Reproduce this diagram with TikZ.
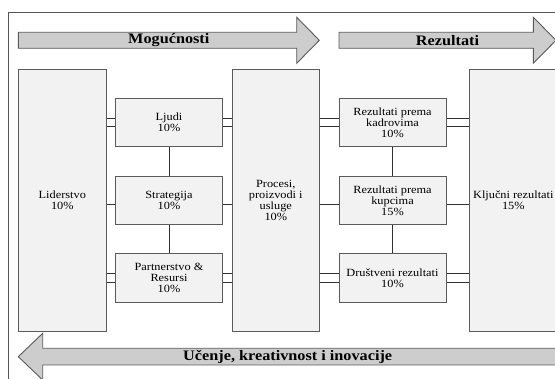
\documentclass[tikz,border=0pt]{standalone}
\usepackage{fontspec}
\setmainfont[FakeStretch=1.12]{Liberation Serif}
\usetikzlibrary{backgrounds}
\definecolor{framecol}{RGB}{85,85,85}
\definecolor{boxfill}{RGB}{242,242,242}
\definecolor{boxline}{RGB}{90,90,90}
\definecolor{linkcol}{RGB}{50,50,50}
\definecolor{arrowfill}{RGB}{205,205,205}
\tikzset{
  crit/.style={draw=boxline, fill=boxfill, line width=0.9pt, inner sep=1pt, outer sep=0pt,
    align=center, font=\fontsize{11}{11}\selectfont},
  bigcrit/.style={crit, minimum width=88pt, minimum height=261.7pt},
  smallcrit/.style={crit, minimum width=107.4pt, minimum height=48.6pt},
  dbl/.style={draw=linkcol, line width=0.9pt, double=white, double distance=7.8pt},
  link/.style={draw=linkcol, line width=0.9pt},
  bigarrow/.style={draw=boxline, fill=arrowfill, line width=0.9pt},
  arrowtext/.style={font=\fontsize{14.5}{14.5}\selectfont\bfseries, inner sep=0pt}
}
\begin{document}
\begin{tikzpicture}[x=1pt, y=-1pt]
  \clip (0,0) rectangle (555,379);
  % outer frame
  \draw[framecol, line width=0.9pt] (8,12) rectangle (567,392);

  % enablers and results arrows
  \draw[bigarrow] (18.3,32.3) -- (296.7,32.3) -- (296.7,17.3) -- (319.3,40.3)
    -- (296.7,63.3) -- (296.7,48.3) -- (18.3,48.3) -- cycle;
  \node[arrowtext] (mog) at (168.8,40.3) {Mogućnosti};
  \draw[bigarrow] (339,32.3) -- (533.3,32.3) -- (533.3,17.3) -- (556,40.3)
    -- (533.3,63.3) -- (533.3,48.3) -- (339,48.3) -- cycle;
  \node[arrowtext] (rez) at (447.5,40.3) {Rezultati};

  % learning arrow
  \draw[bigarrow] (557,348.3) -- (42.7,348.3) -- (42.7,333.3) -- (18.3,356.7)
    -- (42.7,380) -- (42.7,365) -- (557,365) -- cycle;
  \node[arrowtext] (uce) at (287.7,356.7) {Učenje, kreativnost i inovacije};

  % criteria boxes
  \node[bigcrit] (lid) at (62.3,200.15) {Liderstvo\\10\%};
  \node[smallcrit] (lj) at (169,122.5) {Ljudi\\10\%};
  \node[smallcrit] (str) at (169,200.35) {Strategija\\10\%};
  \node[smallcrit] (par) at (169,277.8) {Partnerstvo \&\\Resursi\\10\%};
  \node[bigcrit, minimum width=87pt] (pro) at (275.8,200.15) {Procesi,\\proizvodi i\\usluge\\10\%};
  \node[smallcrit, minimum width=107pt] (kad) at (392.5,122.5) {Rezultati prema\\kadrovima\\10\%};
  \node[smallcrit, minimum width=107pt] (kup) at (392.5,200.35) {Rezultati prema\\kupcima\\15\%};
  \node[smallcrit, minimum width=107pt] (dru) at (392.5,277.8) {Društveni rezultati\\10\%};
  \node[bigcrit] (klj) at (513.3,200.15) {Ključni rezultati\\15\%};

  % links between criteria, drawn beneath the boxes
  \begin{scope}[on background layer]
    \foreach \n in {lj,str,par}{
      \draw[dbl] (\n.west -| lid.east) -- (\n.west);
      \draw[dbl] (\n.east) -- (\n.east -| pro.west);
    }
    \foreach \n in {kad,kup,dru}{
      \draw[dbl] (\n.west -| pro.east) -- (\n.west);
      \draw[dbl] (\n.east) -- (\n.east -| klj.west);
    }
    \draw[link] (lj.south) -- (str.north);
    \draw[link] (str.south) -- (par.north);
    \draw[link] (kad.south) -- (kup.north);
    \draw[link] (kup.south) -- (dru.north);
  \end{scope}
\end{tikzpicture}
\end{document}
